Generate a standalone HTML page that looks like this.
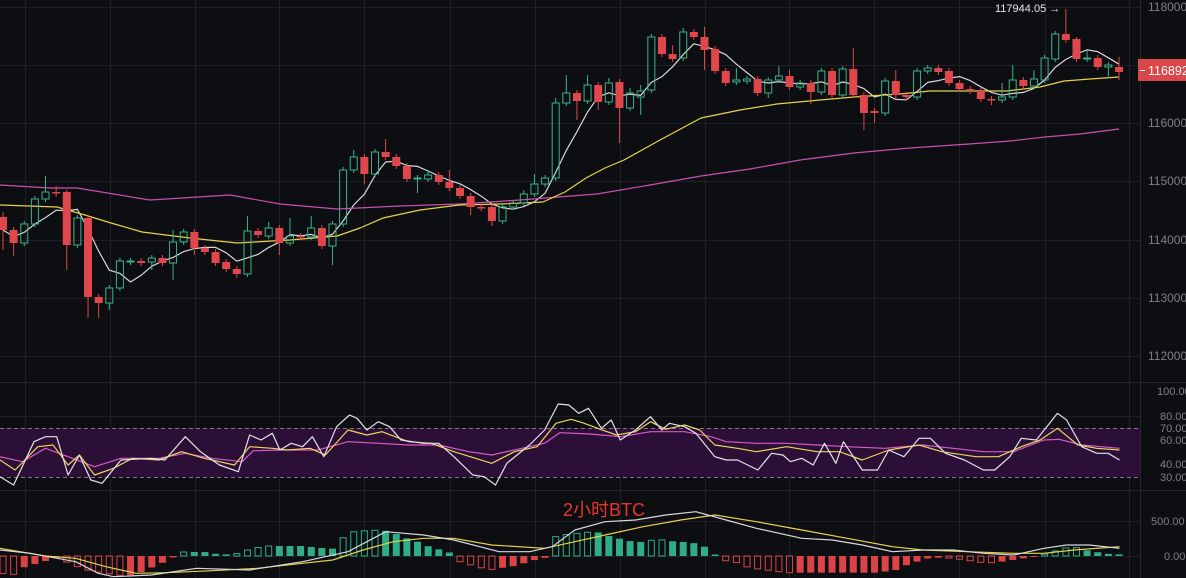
<!DOCTYPE html>
<html><head><meta charset="utf-8"><style>
html,body{margin:0;padding:0;background:#0d0e11;overflow:hidden}
svg{display:block}
text{font-family:"Liberation Sans","Noto Sans CJK SC",sans-serif}
</style></head><body>
<svg id="s" width="1186" height="578" viewBox="0 0 1186 578" xmlns="http://www.w3.org/2000/svg">
<rect width="1186" height="578" fill="#0d0e11"/>
<g id="grid" stroke="#1e2026" stroke-width="1"></g>
<rect x="0" y="428" width="1140" height="49" fill="#2c0f36"/>
<line x1="0" y1="428.5" x2="1140" y2="428.5" stroke="#8a6f90" stroke-dasharray="4,3"/>
<line x1="0" y1="477.5" x2="1140" y2="477.5" stroke="#8a6f90" stroke-dasharray="4,3"/>
<line x1="0" y1="382.5" x2="1186" y2="382.5" stroke="#25272d"/>
<line x1="0" y1="490.5" x2="1186" y2="490.5" stroke="#25272d"/>
<line x1="1140.5" y1="0" x2="1140.5" y2="578" stroke="#25272d"/>
<g id="hist"></g>
<g id="lines" fill="none" stroke-width="1.2" stroke-linejoin="round"></g>
<g id="candles"></g>
<g fill="#7d8088" font-size="12">
<text x="1148" y="11">118000</text>
<text x="1148" y="127">116000</text>
<text x="1148" y="185">115000</text>
<text x="1148" y="244">114000</text>
<text x="1148" y="302">113000</text>
<text x="1148" y="360">112000</text>
</g>
<rect x="1138" y="59" width="48" height="22" fill="#d9474b"/>
<line x1="1140" y1="70.5" x2="1145" y2="70.5" stroke="#fff"/>
<text x="1148" y="75" font-size="12.5" fill="#fff">116892</text>
<text x="995" y="12" font-size="11" fill="#e8e8e8">117944.05 →</text>
<g fill="#7d8088" font-size="11">
<text x="1157" y="395">100.00</text>
<text x="1160" y="420">80.00</text>
<text x="1160" y="432">70.00</text>
<text x="1160" y="444">60.00</text>
<text x="1160" y="468">40.00</text>
<text x="1160" y="481">30.00</text>
<text x="1151" y="525">500.00</text>
<text x="1164" y="560">0.00</text>
</g>
<text x="563" y="516" font-size="18" fill="#e8362c">2小时BTC</text>
</svg>
<script>
var NS="http://www.w3.org/2000/svg";
function el(p,t,a){var e=document.createElementNS(NS,t);for(var k in a)e.setAttribute(k,a[k]);document.getElementById(p).appendChild(e);return e;}
// grid
[7,65,123,181,240,298,356,416,440,464,521,556].forEach(function(y){el("grid","line",{x1:0,x2:1140,y1:y+.5,y2:y+.5});});
[25,110,195,279,364,450,535,620,705,789,874,959,1045,1129].forEach(function(x){el("grid","line",{x1:x+.5,x2:x+.5,y1:0,y2:578});});
var C=[[217,230,212,250],[230,243,0,256],[243,224],[224,199],[199,192,176],[192,193,186,197],[192,245,190,270],[245,218],[218,297,0,318],[297,303,0,318],
[303,288,0,310],[288,261],[262,261],[261,263],[262,258,0,270],[258,263],[263,242,230,280],[242,232],[232,248,0,255],[248,252],
[252,263],[262,269],[269,274,0,278],[274,231,216],[231,235],[236,228,222],[228,243,0,255],[243,236,218],[236,237],[237,228,216],
[228,246],[246,224,0,265],[224,170],[170,157,150],[157,174,0,184],[174,152],[152,157,139],[157,166],[166,179],[179,178,0,193],
[179,175,170],[175,182],[182,188,170],[188,196],[196,207,0,215],[207,208],[207,221,0,226],[221,207],[207,203],[203,194,190],
[194,184,174],[184,178],[178,103,98],[103,93,75],[93,101,0,120],[101,85,75],[85,102,0,110],[102,83,78],[82,108,0,143],[108,93,88],
[97,91,85,115],[90,37,34],[37,54],[54,59,45],[58,32,28],[32,37],[37,50,27,70],[49,71],[71,83],[82,80,68],
[81,79],[79,93],[93,80,0,98],[80,76,66],[76,87,70],[87,83],[83,92,0,104],[92,71],[71,95],[95,69],
[69,95,48],[95,113,0,130],[111,113,0,123],[113,81],[81,95,70],[95,97],[97,71],[71,68,65],[68,72],[71,83],
[83,89],[89,91],[91,99],[99,100,0,105],[100,97,83],[97,80,65],[80,86],[86,79,70],[80,58,55],[59,34],
[34,40,9],[39,59,37],[59,58,50],[58,67,55],[67,65,0,78],[67,72,57,80]];
var N=C.length,dx=(1119-3)/(N-1);
function X(i){return 3+i*dx;}
C.forEach(function(c,i){var o=c[0],cl=c[1],t=Math.min(o,cl),b=Math.max(o,cl);var h=c[2]||t-3,l=c[3]||b+3;
var up=cl<o,col=up?"#3bb38a":"#e0474c",x=X(i);
el("candles","line",{x1:x,x2:x,y1:h,y2:t,stroke:col});el("candles","line",{x1:x,x2:x,y1:b,y2:l,stroke:col});
if(up)el("candles","rect",{x:x-3.5,y:t,width:7,height:Math.max(b-t,1),fill:"none",stroke:col});
else el("candles","rect",{x:x-4,y:t,width:8,height:Math.max(b-t,1.5),fill:col});});
// MA5 white
var pts=[];for(var i=0;i<N;i++){var s=0,n=0;for(var j=Math.max(0,i-4);j<=i;j++){s+=C[j][1];n++;}pts.push(X(i).toFixed(1)+","+(s/n).toFixed(1));}
el("lines","polyline",{points:pts.join(" "),stroke:"#d8d8dc"});
function P(a,sx,sy,ox,oy){var r=[];for(var i=0;i<a.length;i+=2)r.push((ox+a[i]/sx).toFixed(1)+","+(oy+a[i+1]/sy).toFixed(1));return r.join(" ");}
el("lines","polyline",{points:"0,185 50,188 77,188 150,200 230,195 280,204 337,209 400,206 459,204 520,200 597,194 650,185 701,176 750,169 800,160 854,153 910,148 969,144 1010,141 1045,137 1080,134 1119,129",stroke:"#c84fb0"});
el("lines","polyline",{points:"0,205 57,207 85,215 111,223 142,232 190,238 237,243 290,240 337,236 360,228 383,218 420,210 459,205 500,204 543,202 565,192 586,178 605,168 624,160 660,140 701,118 740,110 777,104 820,100 854,97 900,94 930,91 970,91 1007,91 1040,87 1064,81 1090,79 1119,77",stroke:"#e6d24a"});
var S=1.322;
el("lines","polyline",{points:P([0,230,30,245,60,205,90,230,125,260,160,235,210,235,245,220,280,235,320,245,335,212,380,210,420,210,460,185,500,190,540,195,580,195,620,215,650,225,690,205,720,190,740,158,780,162,820,170,860,155,905,155,940,170,960,185,1000,190,1040,190,1080,195,1120,200,1170,205,1220,195,1260,205,1300,215,1340,215,1380,180,1400,178,1430,195,1480,205],S,3,0,380),stroke:"#d65ac8"});
el("lines","polyline",{points:P([0,240,20,270,50,200,70,195,90,255,105,225,125,285,150,265,175,235,210,240,240,215,270,235,310,255,330,200,360,205,380,210,410,205,430,225,460,150,485,165,505,155,540,185,570,190,600,215,650,250,680,215,710,200,735,130,755,118,770,128,790,145,815,165,840,155,860,125,880,148,905,135,925,150,945,195,975,205,1000,215,1040,200,1080,215,1110,215,1140,240,1175,210,1215,195,1245,215,1290,230,1320,230,1350,200,1375,180,1398,145,1425,195,1450,205,1480,210],S,3,0,380),stroke:"#ecd35a"});
el("lines","polyline",{points:P([0,290,18,315,45,185,60,170,75,170,90,285,105,225,120,300,135,310,160,240,200,235,218,240,245,170,265,215,290,255,315,275,330,165,345,180,360,160,370,210,385,190,400,200,413,170,428,230,445,140,462,105,472,115,485,150,500,125,515,140,530,180,560,190,580,190,600,230,625,285,640,290,655,315,670,250,700,195,720,150,738,72,752,75,765,100,778,85,795,145,808,120,820,180,840,150,860,110,875,150,885,130,905,140,920,160,945,230,960,240,975,240,1002,270,1020,220,1035,225,1045,245,1060,235,1075,255,1090,190,1105,250,1115,185,1140,270,1160,270,1175,210,1195,230,1215,175,1230,175,1250,220,1275,240,1300,270,1315,270,1335,230,1350,175,1370,180,1398,100,1410,120,1430,200,1450,220,1465,220,1480,240],S,3,0,380),stroke:"#e2e2e6"});
// MACD hist
var K=[0,-50,15,-60,30,-35,45,-25,60,-15,75,-5,90,-20,100,-30,120,-45,135,-50,150,-55,165,-60,180,-55,195,-40,210,-25,225,-10,240,12,270,12,290,5,310,5,330,20,350,30,400,30,420,25,440,22,460,70,475,75,505,78,520,70,535,55,550,45,565,30,580,20,595,10,605,-15,620,-25,635,-35,650,-40,665,-35,680,-30,695,-20,710,-10,722,-5,735,60,750,65,780,72,795,70,810,55,825,50,840,40,855,45,870,50,885,45,915,40,930,30,945,5,960,-15,975,-20,990,-35,1040,-50,1160,-50,1190,-40,1200,-25,1215,-15,1230,-5,1250,-5,1270,-10,1300,-20,1315,-20,1345,-10,1360,-5,1380,5,1395,15,1410,25,1425,25,1440,15,1455,10,1470,5];
function H(x){var zx=x*S;for(var k=0;k<K.length-2;k+=2){if(zx>=K[k]&&zx<=K[k+2]){var t=(zx-K[k])/(K[k+2]-K[k]);return (K[k+1]+t*(K[k+3]-K[k+1]))/3;}}return zx<K[0]?K[1]/3:K[K.length-1]/3;}
var prev=0;for(var i=0;i<N;i++){var x=X(i),h=H(x),col=h>=0?"#2fae86":"#dc4346";var grow=Math.abs(h)>Math.abs(prev);var y=h>=0?556-h:556,hh=Math.max(Math.abs(h),1);
if(grow)el("hist","rect",{x:x-3,y:y,width:6,height:hh,fill:"none",stroke:col});else el("hist","rect",{x:x-3.5,y:y,width:7,height:hh,fill:col});prev=h;}
el("lines","polyline",{points:P([0,505,60,528,100,535,140,560,180,580,220,578,280,572,340,565,400,550,440,540,480,510,520,485,560,475,600,475,650,495,720,505,760,485,800,465,850,440,900,420,945,405,1000,425,1060,450,1120,475,1180,500,1220,510,1280,515,1340,520,1380,520,1420,510,1480,500],S,3,0,380),stroke:"#e6d24a"});
el("lines","polyline",{points:P([0,510,40,520,100,545,130,580,150,590,200,585,260,565,330,570,400,545,460,515,510,455,560,465,600,480,660,515,700,515,730,500,760,450,800,425,840,420,880,405,920,395,960,420,1000,445,1060,475,1100,480,1140,495,1180,515,1220,510,1260,510,1300,520,1340,525,1380,505,1410,495,1440,495,1480,505],S,3,0,380),stroke:"#d8d8dc"});
</script>
</body></html>
